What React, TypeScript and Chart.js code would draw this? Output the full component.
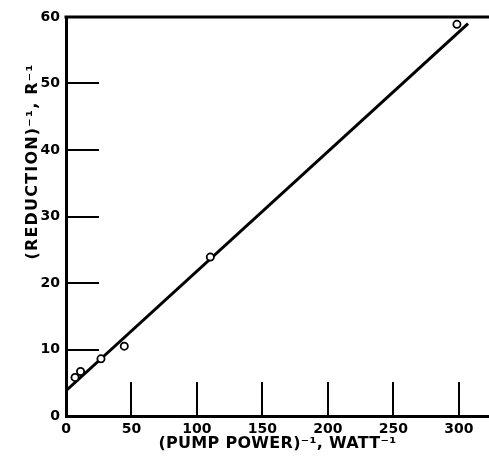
import React, { useEffect, useRef } from "react";
import { Chart, registerables } from "chart.js";

Chart.register(...registerables);

const pumpPowerInv = [6.9, 11.1, 26.7, 44.5, 110.2, 298.5];
const reductionInv = [5.8, 6.7, 8.6, 10.5, 23.9, 58.9];
const fitX = [0, 307];
const fitY = [3.8, 59.0];
const xTickValues = [0, 50, 100, 150, 200, 250, 300];
const yTickValues = [0, 10, 20, 30, 40, 50, 60];
const xTitle = "(PUMP POWER)\u207B\u00B9, WATT\u207B\u00B9";
const yTitle = "(REDUCTION)\u207B\u00B9, R\u207B\u00B9";

const FONT = "'DejaVu Sans', sans-serif";

export default function App() {
  const ref = useRef<HTMLCanvasElement | null>(null);
  useEffect(() => {
    if (!ref.current) return;
    const decor = {
      id: "decor",
      beforeDatasetsDraw(chart: any) {
        const { ctx, chartArea, scales } = chart;
        const xs = scales.x;
        const ys = scales.y;
        ctx.save();
        ctx.strokeStyle = "#000";
        ctx.lineWidth = 2;
        yTickValues.forEach((v) => {
          if (v === 0 || v === 60) return;
          const py = Math.round(ys.getPixelForValue(v));
          ctx.beginPath();
          ctx.moveTo(chartArea.left, py);
          ctx.lineTo(chartArea.left + 33, py);
          ctx.stroke();
        });
        xTickValues.forEach((v) => {
          if (v === 0) return;
          const px = Math.round(xs.getPixelForValue(v));
          ctx.beginPath();
          ctx.moveTo(px, chartArea.bottom);
          ctx.lineTo(px, chartArea.bottom - 34);
          ctx.stroke();
        });
        ctx.lineWidth = 3;
        ctx.beginPath();
        ctx.moveTo(chartArea.left - 1.5, chartArea.top);
        ctx.lineTo(chartArea.right, chartArea.top);
        ctx.stroke();
        ctx.fillStyle = "#000";
        ctx.font = "bold 16px " + FONT;
        ctx.textAlign = "center";
        ctx.textBaseline = "alphabetic";
        (ctx as any).letterSpacing = "0.3px";
        ctx.fillText(xTitle, 277.5, 447.5);
        (ctx as any).letterSpacing = "1.2px";
        ctx.translate(36.5, 161.5);
        ctx.rotate(-Math.PI / 2);
        ctx.fillText(yTitle, 0, 0);
        ctx.restore();
      },
    };
    const chart = new Chart(ref.current, {
      type: "scatter",
      data: {
        datasets: [
          {
            data: pumpPowerInv.map((x, i) => ({ x, y: reductionInv[i] })),
            pointRadius: 3.6,
            pointBorderWidth: 1.8,
            pointBorderColor: "#000",
            pointBackgroundColor: "#fff",
            showLine: false,
          },
          {
            data: fitX.map((x, i) => ({ x, y: fitY[i] })),
            showLine: true,
            borderColor: "#000",
            borderWidth: 3,
            pointRadius: 0,
          },
        ],
      },
      options: {
        animation: false,
        responsive: false,
        events: [],
        layout: { autoPadding: false, padding: { top: 17, right: 0, left: 0, bottom: 0 } },
        plugins: { legend: { display: false }, tooltip: { enabled: false } },
        scales: {
          x: {
            type: "linear",
            min: 0,
            max: 323,
            afterBuildTicks: (s: any) => {
              s.ticks = xTickValues.map((v) => ({ value: v }));
            },
            afterFit: (s: any) => {
              s.height = 43;
              s.paddingLeft = 0;
              s.paddingRight = 0;
            },
            grid: { drawOnChartArea: false, drawTicks: false },
            border: { display: true, color: "#000", width: 3 },
            ticks: {
              color: "#000",
              padding: 5,
              font: { family: FONT, size: 14, weight: "bold" },
              maxRotation: 0,
            },
          },
          y: {
            type: "linear",
            min: 0,
            max: 60,
            afterBuildTicks: (s: any) => {
              s.ticks = yTickValues.map((v) => ({ value: v }));
            },
            afterFit: (s: any) => {
              s.width = 66;
              s.paddingTop = 0;
              s.paddingBottom = 0;
            },
            grid: { drawOnChartArea: false, drawTicks: false },
            border: { display: true, color: "#000", width: 3 },
            ticks: {
              color: "#000",
              padding: 6,
              font: { family: FONT, size: 14, weight: "bold" },
            },
          },
        },
      },
      plugins: [decor],
    } as any);
    return () => chart.destroy();
  }, []);
  return (
    <div style={{ position: "fixed", left: 0, top: 0, width: 489, height: 459, background: "#fff" }}>
      <canvas ref={ref} width={489} height={459} style={{ width: 489, height: 459 }} />
    </div>
  );
}
